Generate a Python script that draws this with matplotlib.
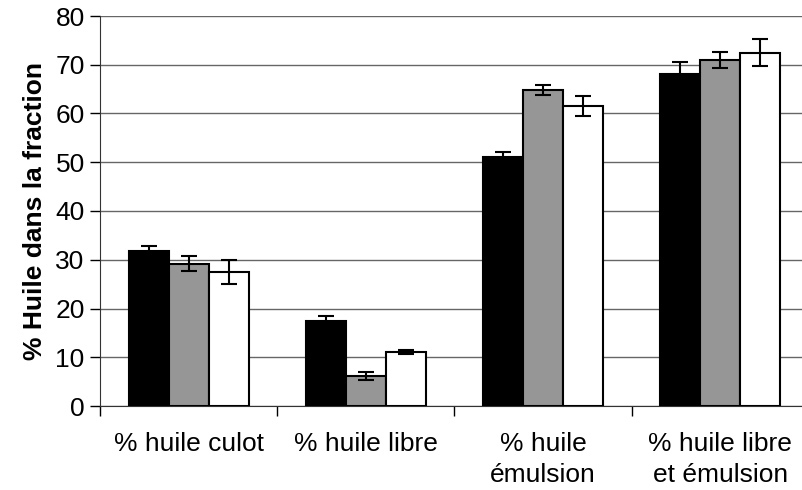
import numpy as np
import matplotlib
matplotlib.use("Agg")
import matplotlib.pyplot as plt

plt.rcParams["font.family"] = ["Liberation Sans", "DejaVu Sans"]

categories = ["% huile culot", "% huile libre", "% huile\némulsion", "% huile libre\net émulsion"]

# three unnamed series (black, grey, white bars)
serie_noire = [31.7, 17.4, 51.0, 68.2]
serie_grise = [29.2, 6.2, 64.8, 70.9]
serie_blanche = [27.5, 11.1, 61.5, 72.5]

err_noire = [1.2, 1.1, 1.1, 2.3]
err_grise = [1.6, 0.8, 1.0, 1.65]
err_blanche = [2.5, 0.45, 2.05, 2.7]

y_ticks = [0, 10, 20, 30, 40, 50, 60, 70, 80]

fig = plt.figure(figsize=(8.02, 4.90), dpi=100)
ax = fig.add_axes([100 / 802, 84 / 490, 709 / 802, 390 / 490])

x = np.arange(len(categories))
w = 0.226
series = [
    (serie_noire, err_noire, "black"),
    (serie_grise, err_grise, "#969696"),
    (serie_blanche, err_blanche, "white"),
]
for i, (vals, errs, col) in enumerate(series):
    ax.bar(x + (i - 1) * w, vals, w, color=col, edgecolor="black", linewidth=1.5, zorder=3)
    ax.errorbar(x + (i - 1) * w, vals, yerr=errs, fmt="none", ecolor="black",
                elinewidth=1.5, capsize=5.5, capthick=1.5, zorder=4)

ax.set_xlim(-0.5, 3.5)
ax.set_ylim(0, 80)
ax.set_yticks(y_ticks)
ax.tick_params(axis="y", labelsize=19, length=7, width=1, pad=4, direction="out")
ax.yaxis.grid(True, color="#666666", linewidth=1)
ax.set_axisbelow(True)

# group separators as major ticks, labels on minor ticks
ax.set_xticks(np.arange(-0.5, 4.0, 1.0))
ax.set_xticklabels([])
ax.set_xticks(x, minor=True)
ax.set_xticklabels(categories, minor=True)
ax.tick_params(axis="x", which="major", length=7, width=1, direction="out")
ax.tick_params(axis="x", which="minor", length=0, labelsize=19, pad=19)
for lbl in ax.get_xticklabels(minor=True):
    lbl.set_linespacing(1.35)

for s in ["top", "right"]:
    ax.spines[s].set_visible(False)
ax.spines["left"].set_color("#333333")
ax.spines["bottom"].set_color("#333333")

ax.set_ylabel("% Huile dans la fraction", fontsize=19, fontweight="bold", labelpad=6)

fig.savefig("out.png", dpi=100)
